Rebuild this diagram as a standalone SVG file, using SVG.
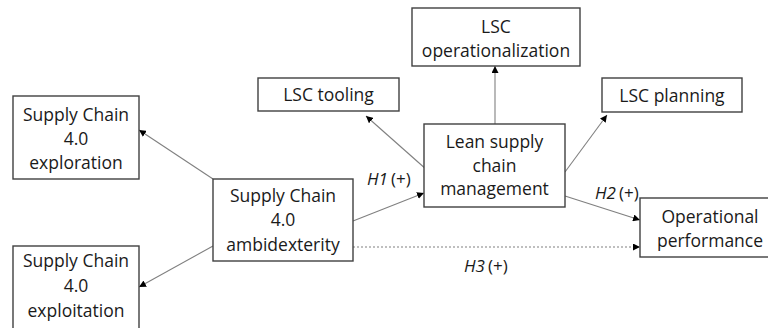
<svg xmlns="http://www.w3.org/2000/svg" width="768" height="328" viewBox="0 0 768 328">
  <style>
    .box { fill: #ffffff; stroke: #404040; stroke-width: 1.4; }
    .lbl { font-family: "Open Sans", "Liberation Sans", sans-serif; font-size: 17.5px; fill: #1a1a1a; text-anchor: middle; }
    .hyp { font-family: "Open Sans", "Liberation Sans", sans-serif; font-size: 17px; fill: #1a1a1a; }
    .hyp .it { font-style: italic; }
    .edge { fill: none; stroke: #808080; stroke-width: 1.1; marker-end: url(#head); }
    .dash { stroke-dasharray: 2 2; }
  </style>
  <defs>
    <marker id="head" markerUnits="userSpaceOnUse" markerWidth="7" markerHeight="7" refX="7" refY="3.5" orient="auto">
      <path d="M0,0 L7,3.5 L0,7 z" fill="#000000"/>
    </marker>
  </defs>
  <rect width="768" height="328" fill="#ffffff"/>

  <!-- connectors -->
  <g id="connectors">
    <line class="edge" x1="213" y1="179" x2="139" y2="130"/>
    <line class="edge" x1="213" y1="246" x2="139" y2="287"/>
    <line class="edge" x1="353" y1="221" x2="424" y2="193"/>
    <line class="edge" x1="427" y1="170" x2="366" y2="116"/>
    <line class="edge" x1="495" y1="124" x2="495" y2="66"/>
    <line class="edge" x1="565" y1="172" x2="607" y2="115"/>
    <line class="edge" x1="565" y1="196" x2="640" y2="220"/>
    <line class="edge dash" x1="353" y1="247" x2="640" y2="247"/>
    <text class="hyp" x="367" y="185"><tspan class="it">H1</tspan><tspan dx="3">(+)</tspan></text>
    <text class="hyp" x="595" y="199"><tspan class="it">H2</tspan><tspan dx="3">(+)</tspan></text>
    <text class="hyp" x="464" y="272"><tspan class="it">H3</tspan><tspan dx="3">(+)</tspan></text>
  </g>

  <!-- nodes -->
  <g id="exploration">
    <rect class="box" x="13" y="96" width="126" height="83"/>
    <text class="lbl" x="76" y="121">Supply Chain</text>
    <text class="lbl" x="76" y="145">4.0</text>
    <text class="lbl" x="76" y="169">exploration</text>
  </g>
  <g id="exploitation">
    <rect class="box" x="13" y="246" width="126" height="90"/>
    <text class="lbl" x="76" y="267">Supply Chain</text>
    <text class="lbl" x="76" y="292">4.0</text>
    <text class="lbl" x="76" y="317">exploitation</text>
  </g>
  <g id="ambidexterity">
    <rect class="box" x="213" y="179" width="140" height="82"/>
    <text class="lbl" x="283" y="202">Supply Chain</text>
    <text class="lbl" x="283" y="226">4.0</text>
    <text class="lbl" x="283" y="251">ambidexterity</text>
  </g>
  <g id="lscm">
    <rect class="box" x="424" y="124" width="141" height="83"/>
    <text class="lbl" x="494.5" y="148">Lean supply</text>
    <text class="lbl" x="494.5" y="172">chain</text>
    <text class="lbl" x="494.5" y="195">management</text>
  </g>
  <g id="tooling">
    <rect class="box" x="258" y="78" width="141" height="33"/>
    <text class="lbl" x="328.5" y="101">LSC tooling</text>
  </g>
  <g id="operationalization">
    <rect class="box" x="412" y="8" width="168" height="58"/>
    <text class="lbl" x="496" y="33">LSC</text>
    <text class="lbl" x="496" y="57">operationalization</text>
  </g>
  <g id="planning">
    <rect class="box" x="602" y="78" width="140" height="34"/>
    <text class="lbl" x="672" y="102">LSC planning</text>
  </g>
  <g id="performance">
    <rect class="box" x="640" y="198" width="140" height="59"/>
    <text class="lbl" x="710" y="223">Operational</text>
    <text class="lbl" x="710" y="247">performance</text>
  </g>
</svg>
